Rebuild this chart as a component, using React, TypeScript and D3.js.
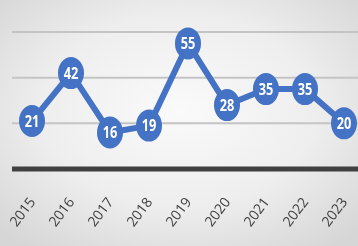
import React from 'react';
import * as d3 from 'd3';

const years = ['2015', '2016', '2017', '2018', '2019', '2020', '2021', '2022', '2023'];
const values = [21, 42, 16, 19, 55, 28, 35, 35, 20];
const gridTicks = [20, 40, 60];

const W = 358;
const H = 246;

const App: React.FC = () => {
  const x = d3.scalePoint<string>().domain(years).range([32, 344]);
  const y = d3.scaleLinear().domain([0, 60]).range([169, 32]);

  const line = d3.line<number>()
    .x((_, i) => x(years[i]) as number)
    .y(d => y(d));

  return (
    <div style={{ position: 'fixed', left: 0, top: 0, width: W, height: H }}>
      <svg width={W} height={H} style={{ display: 'block' }}>
        <defs>
          <radialGradient id="bg" cx="50%" cy="45%" r="70%">
            <stop offset="0%" stopColor="#fafafa" />
            <stop offset="55%" stopColor="#eeeeee" />
            <stop offset="100%" stopColor="#d6d6d6" />
          </radialGradient>
        </defs>
        <rect width={W} height={H} fill="url(#bg)" />

        {/* grid lines */}
        {gridTicks.map(t => (
          <line key={t} x1={12} x2={W} y1={y(t)} y2={y(t)} stroke="#c4c4c4" strokeWidth={2} />
        ))}

        {/* axis */}
        <line x1={12} x2={W} y1={y(0)} y2={y(0)} stroke="#404040" strokeWidth={5} />

        {/* tick labels */}
        {years.map(yr => (
          <text
            key={yr}
            transform={`translate(${(x(yr) as number) + 4},${202}) rotate(-53)`}
            textAnchor="end"
            fontFamily="'Open Sans', sans-serif"
            fontSize={14}
            fill="#404040"
          >
            {yr}
          </text>
        ))}

        {/* series line */}
        <path d={line(values) || ''} fill="none" stroke="#4472c4" strokeWidth={6} strokeLinejoin="round" />

        {/* markers + labels */}
        {values.map((v, i) => {
          const cx = x(years[i]) as number;
          const cy = y(v);
          return (
            <g key={years[i]}>
              <ellipse cx={cx} cy={cy} rx={13} ry={16} fill="#4472c4" />
              <text
                transform={`translate(${cx},${cy}) scale(0.8,1)`}
                textAnchor="middle"
                dy="0.36em"
                fontFamily="'Open Sans', sans-serif"
                fontWeight="bold"
                fontSize={16}
                fill="#ffffff"
              >
                {v}
              </text>
            </g>
          );
        })}
      </svg>
    </div>
  );
};

export default App;
